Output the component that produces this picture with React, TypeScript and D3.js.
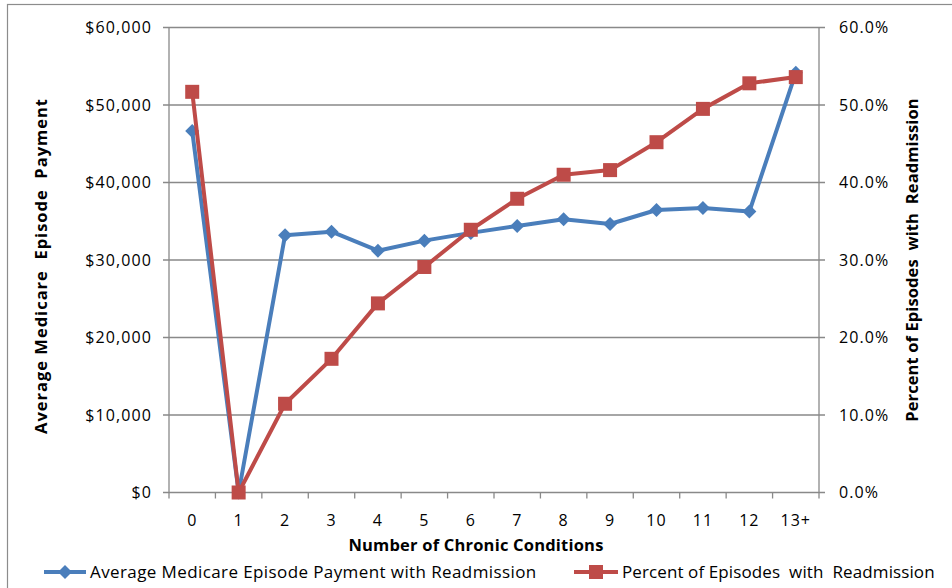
import React from "react";
import * as d3 from "d3";

// Number of chronic conditions (x categories)
const categories = ["0", "1", "2", "3", "4", "5", "6", "7", "8", "9", "10", "11", "12", "13+"];

// Average Medicare episode payment with readmission (left axis, dollars)
const paymentValues = [46650, 0, 33200, 33650, 31200, 32500, 33500, 34400, 35250, 34650, 36450, 36700, 36250, 54150];

// Percent of episodes with readmission (right axis, fraction)
const percentValues = [0.517, 0, 0.1145, 0.1725, 0.244, 0.291, 0.339, 0.379, 0.41, 0.416, 0.452, 0.495, 0.528, 0.536];

const leftTicks = [0, 10000, 20000, 30000, 40000, 50000, 60000];
const rightTicks = [0, 0.1, 0.2, 0.3, 0.4, 0.5, 0.6];

const paymentLabel = "Average Medicare Episode Payment with Readmission";
const percentLabel = "Percent of Episodes  with  Readmission";
const xTitle = "Number of Chronic Conditions";
const leftTitle = "Average Medicare  Episode  Payment";
const rightTitle = "Percent of Episodes  with  Readmission";

const W = 952;
const H = 588;
const plot = { left: 169, right: 819, top: 27.5, bottom: 492.5 };

const BLUE = "#4A7EBB";
const RED = "#BE4B48";
const GRID = "#898989";
const FONT = "'Open Sans', 'Liberation Sans', sans-serif";

const diamond = (cx: number, cy: number, r: number) =>
  `M${cx},${cy - r}L${cx + r},${cy}L${cx},${cy + r}L${cx - r},${cy}Z`;

export default function App() {
  const x = d3.scaleBand<string>().domain(categories).range([plot.left, plot.right]).padding(0);
  const yL = d3.scaleLinear().domain([0, 60000]).range([plot.bottom, plot.top]);
  const yR = d3.scaleLinear().domain([0, 0.6]).range([plot.bottom, plot.top]);
  const cx = (c: string) => (x(c) ?? 0) + x.bandwidth() / 2;

  const payLine = d3
    .line<number>()
    .x((_, i) => cx(categories[i]))
    .y((d) => yL(d));
  const pctLine = d3
    .line<number>()
    .x((_, i) => cx(categories[i]))
    .y((d) => yR(d));

  const money = d3.format("$,");
  const pct = d3.format(".1%");
  const xBounds = [...categories.map((c) => x(c) ?? 0), plot.right];

  return (
    <svg
      width={W}
      height={H}
      style={{ position: "absolute", left: 0, top: 0, background: "#fff" }}
      fontFamily={FONT}
    >
      <rect x={7.5} y={4.5} width={W + 10} height={H + 10} fill="#fff" stroke="#8c8c8c" strokeWidth={1.2} />

      {/* horizontal gridlines */}
      {leftTicks.map((t) => (
        <line key={"g" + t} x1={plot.left - 6} x2={plot.right + 6} y1={yL(t)} y2={yL(t)} stroke={GRID} strokeWidth={1.3} />
      ))}
      {/* axes */}
      <line x1={plot.left} x2={plot.left} y1={plot.top} y2={plot.bottom} stroke={GRID} strokeWidth={1.3} />
      <line x1={plot.right} x2={plot.right} y1={plot.top} y2={plot.bottom} stroke={GRID} strokeWidth={1.3} />
      {xBounds.map((b, i) => (
        <line key={"xt" + i} x1={b} x2={b} y1={plot.bottom} y2={plot.bottom + 6} stroke={GRID} strokeWidth={1.3} />
      ))}

      {/* left tick labels */}
      {leftTicks.map((t) => (
        <text key={"l" + t} x={plot.left - 17} y={yL(t) + 5.5} textAnchor="end" fontSize={16} letterSpacing={1.1} fill="#000">
          {money(t)}
        </text>
      ))}
      {/* right tick labels */}
      {rightTicks.map((t) => (
        <text key={"r" + t} x={plot.right + 20} y={yR(t) + 5.5} textAnchor="start" fontSize={16} letterSpacing={1.1} fill="#000">
          {pct(t)}
        </text>
      ))}
      {/* category labels */}
      {categories.map((c) => (
        <text key={"c" + c} x={cx(c)} y={526} textAnchor="middle" fontSize={16} letterSpacing={1} fill="#000">
          {c}
        </text>
      ))}

      {/* axis titles */}
      <text x={476} y={551} textAnchor="middle" fontSize={16.5} letterSpacing={0.2} fontWeight="bold" fill="#000">
        {xTitle}
      </text>
      <text
        transform="translate(47,266) rotate(-90)"
        textAnchor="middle"
        fontSize={16.5}
        letterSpacing={1}
        fontWeight="bold"
        fill="#000"
        style={{ whiteSpace: "pre" }}
      >
        {leftTitle}
      </text>
      <text
        transform="translate(917.5,260) rotate(-90)"
        textAnchor="middle"
        fontSize={16.5}
        letterSpacing={0.1}
        fontWeight="bold"
        fill="#000"
        style={{ whiteSpace: "pre" }}
      >
        {rightTitle}
      </text>

      {/* payment series */}
      <path d={payLine(paymentValues) ?? ""} fill="none" stroke={BLUE} strokeWidth={4} strokeLinejoin="round" />
      {paymentValues.map((v, i) => (
        <path key={"d" + i} d={diamond(cx(categories[i]), yL(v), 7)} fill={BLUE} />
      ))}

      {/* percent series */}
      <path d={pctLine(percentValues) ?? ""} fill="none" stroke={RED} strokeWidth={4} strokeLinejoin="round" />
      {percentValues.map((v, i) => (
        <rect key={"s" + i} x={cx(categories[i]) - 7} y={yR(v) - 7} width={14} height={14} fill={RED} />
      ))}

      {/* legend */}
      <line x1={44} x2={86} y1={572} y2={572} stroke={BLUE} strokeWidth={4} />
      <path d={diamond(65, 572, 7)} fill={BLUE} />
      <text x={90} y={578} fontSize={17} letterSpacing={0.4} fill="#000">
        {paymentLabel}
      </text>
      <line x1={574} x2={618} y1={572} y2={572} stroke={RED} strokeWidth={4} />
      <rect x={589} y={565} width={14} height={14} fill={RED} />
      <text x={622} y={578} fontSize={17} letterSpacing={0.1} fill="#000" style={{ whiteSpace: "pre" }}>
        {percentLabel}
      </text>
    </svg>
  );
}
